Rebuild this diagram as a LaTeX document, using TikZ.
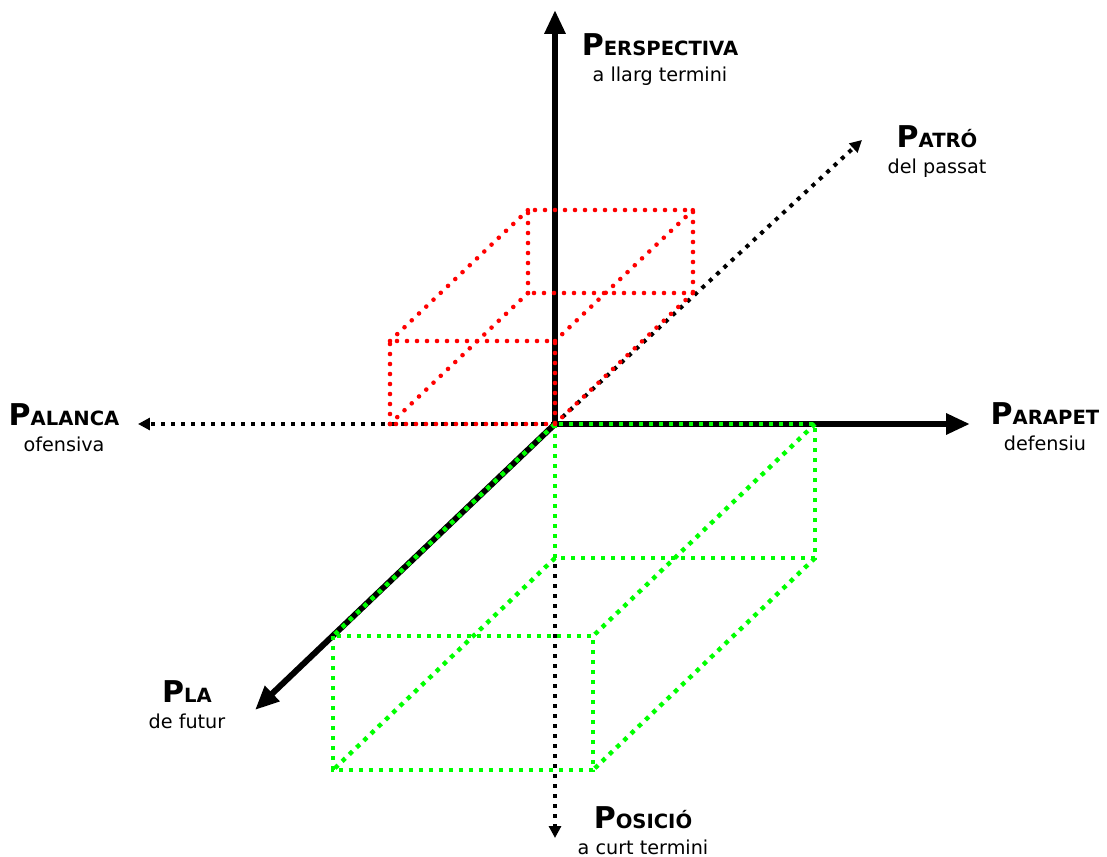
\documentclass[tikz,border=0pt]{standalone}
\usepackage{fontspec}
\setmainfont{DejaVu Sans}
\usetikzlibrary{arrows.meta}
\newcommand{\axtitle}[2]{{\bfseries\fontsize{15}{13}\selectfont #1\fontsize{9.8}{13}\selectfont #2}}
\begin{document}
\begin{tikzpicture}[x=0.5pt, y=0.5pt,
      axis/.style={line width=3pt},
      dotaxis/.style={line width=2pt, dash pattern=on 2pt off 3pt},
      redbox/.style={draw=red, line width=2.3pt, line cap=round, dash pattern=on 0pt off 5pt},
      greenbox/.style={draw=green, line width=2.2pt, dash pattern=on 2.2pt off 2.8pt},
      lbl/.style={align=center, anchor=north, inner sep=0pt, font=\fontsize{9.6}{13}\selectfont},
      bigtip/.style={-{Triangle[length=12pt, width=10pt]}},
      smalltip/.style={-{Triangle[length=6pt, width=6pt]}}]
    \useasboundingbox (-555,-432) rectangle (552,424);
    % axes
    \coordinate (o) at (0,0);
    \coordinate (up) at (0,414);
    \coordinate (rt) at (415,0);
    \coordinate (lf) at (-417,0);
    \coordinate (dn) at (0,-414);
    \coordinate (bk) at (307,284);
    \coordinate (fr) at (-300,-286);
    \draw[axis, bigtip] (o) -- (up);
    \draw[axis, bigtip] (o) -- (rt);
    \draw[axis, bigtip] (o) -- (fr);
    \draw[dotaxis, smalltip] (o) -- (lf);
    \draw[dotaxis, smalltip] (o) -- (dn);
    \draw[dotaxis, smalltip] (o) -- (bk);
    % boxes
    \draw[greenbox] (0,0) rectangle (260,-134);
    \draw[greenbox] (-222,-212) rectangle (38,-346);
    \draw[greenbox] (0,0) -- (-222,-212) (260,0) -- (38,-212)
                    (260,-134) -- (38,-346) (0,-134) -- (-222,-346);
    \draw[redbox] (-165,0) rectangle (0,83);
    \draw[redbox] (-27,131) rectangle (138,214);
    \draw[redbox] (-165,0) -- (-27,131) (0,0) -- (138,131)
                  (0,83) -- (138,214) (-165,83) -- (-27,214);
    % labels
    \node[lbl] (persp) at (105,391) {\axtitle{P}{ERSPECTIVA}\\a llarg termini};
    \node[lbl] (patro) at (382,299) {\axtitle{P}{ATRÓ}\\del passat};
    \node[lbl] (palanca) at (-491,21) {\axtitle{P}{ALANCA}\\ofensiva};
    \node[lbl] (parapet) at (490,22) {\axtitle{P}{ARAPET}\\defensiu};
    \node[lbl] (pla) at (-368,-256) {\axtitle{P}{LA}\\de futur};
    \node[lbl] (posicio) at (88,-382) {\axtitle{P}{OSICIÓ}\\a curt termini};
  \end{tikzpicture}
\end{document}
